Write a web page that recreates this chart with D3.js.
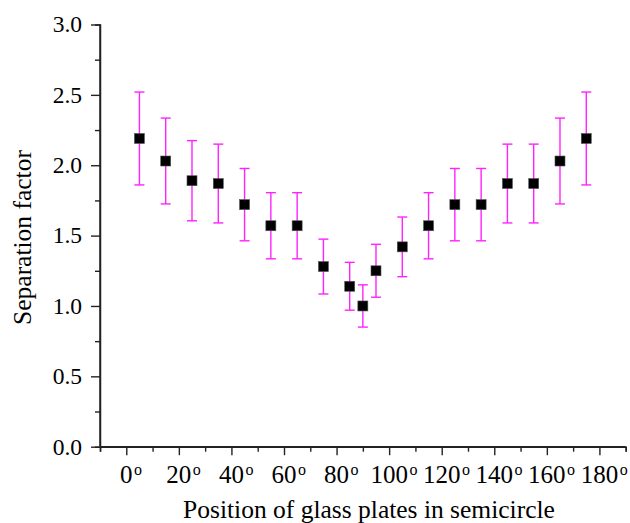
<!DOCTYPE html>
<html>
<head>
<meta charset="utf-8">
<script src="https://cdn.jsdelivr.net/npm/d3@7"></script>
<style>
	body { margin: 0; background: #fff; }
	svg { display: block; }
</style>
</head>
<body>
<script>
const w = 630;
const h = 523;
const margin = { top: 24.5, right: 4.3, bottom: 76.3, left: 100 };
const serif = "'Liberation Serif', 'Times New Roman', Times, 'DejaVu Serif', serif";

// * DATA
const angles = [5, 15, 25, 35, 45, 55, 65, 75, 85, 90, 95, 105, 115, 125, 135, 145, 155, 165, 175];
const values = [2.19, 2.03, 1.89, 1.87, 1.72, 1.57, 1.57, 1.28, 1.14, 1.0, 1.25, 1.42, 1.57, 1.72, 1.72, 1.87, 1.87, 2.03, 2.19];
const errors = [0.33, 0.305, 0.285, 0.28, 0.257, 0.235, 0.235, 0.195, 0.17, 0.15, 0.188, 0.212, 0.235, 0.257, 0.257, 0.28, 0.28, 0.305, 0.33];
const xTicks = [0, 20, 40, 60, 80, 100, 120, 140, 160, 180];
const xMinor = [-10, 10, 30, 50, 70, 90, 110, 130, 150, 170, 190];
const yTicks = [0, 0.5, 1.0, 1.5, 2.0, 2.5, 3.0];
const yMinor = [0.25, 0.75, 1.25, 1.75, 2.25, 2.75];

const dataset = angles.map((a, i) => [a, values[i], errors[i]]);

// * SVG BASE SETUP
const svg = d3.select("body").append("svg")
	.attr("width", w)
	.attr("height", h)
	.attr("font-family", serif);

// * SCALES
const xScale = d3.scaleLinear().domain([-10, 190]).range([margin.left, w - margin.right]);
const yScale = d3.scaleLinear().domain([0, 3]).range([h - margin.bottom, margin.top]);

const axisColor = "#222";

// * AXES
const xAxis = d3.axisBottom(xScale).tickValues(xTicks).tickSize(8.5).tickFormat("");
const xAxisMinor = d3.axisBottom(xScale).tickValues(xMinor).tickSize(5).tickFormat("");
const yAxis = d3.axisLeft(yScale).tickValues(yTicks).tickSize(9).tickFormat("");
const yAxisMinor = d3.axisLeft(yScale).tickValues(yMinor).tickSize(5).tickFormat("");

function styleAxis(g) {
	g.selectAll("path").attr("stroke", axisColor).attr("stroke-width", 1.5);
	g.selectAll("line").attr("stroke", axisColor).attr("stroke-width", 1.4);
}

svg.append("g")
	.attr("transform", "translate(0," + yScale(0) + ")")
	.call(xAxisMinor)
	.call(styleAxis);
svg.append("g")
	.attr("id", "x-axis")
	.attr("transform", "translate(0," + yScale(0) + ")")
	.call(xAxis)
	.call(styleAxis)
	.call((g) => g.select(".domain").attr("d", "M" + xScale(-10) + ",0H" + xScale(190)));
svg.append("g")
	.attr("transform", "translate(" + margin.left + ",0)")
	.call(yAxisMinor)
	.call(styleAxis);
svg.append("g")
	.attr("id", "y-axis")
	.attr("transform", "translate(" + margin.left + ",0)")
	.call(yAxis)
	.call(styleAxis)
	.call((g) => g.select(".domain").attr("d", "M0," + yScale(0) + "V" + yScale(3)));

// * TICK LABELS
svg.append("g")
	.selectAll("text")
	.data(yTicks)
	.enter()
	.append("text")
	.attr("x", 82)
	.attr("y", (d) => yScale(d) + 7.8)
	.attr("text-anchor", "end")
	.attr("font-family", serif)
	.attr("font-size", 23.5)
	.text((d) => d3.format(".1f")(d));

const xLabels = svg.append("g")
	.selectAll("g")
	.data(xTicks)
	.enter()
	.append("g")
	.attr("font-family", serif);
xLabels.append("text")
	.attr("class", "num")
	.attr("x", (d) => xScale(d))
	.attr("y", 483.3)
	.attr("text-anchor", "middle")
	.attr("font-size", 25)
	.text((d) => d);
xLabels.each(function (d) {
	const g = d3.select(this);
	const len = g.select(".num").node().getComputedTextLength();
	g.append("text")
		.attr("x", xScale(d) + len / 2 + 1.5)
		.attr("y", 474.5)
		.attr("font-size", 16)
		.text("o");
});

// * AXIS TITLES
svg.append("text")
	.attr("x", 369)
	.attr("y", 518)
	.attr("text-anchor", "middle")
	.attr("font-family", serif)
	.attr("font-size", 25.5)
	.text("Position of glass plates in semicircle");
svg.append("text")
	.attr("transform", "translate(31," + 237.5 + ") rotate(-90)")
	.attr("text-anchor", "middle")
	.attr("font-family", serif)
	.attr("font-size", 25.5)
	.text("Separation factor");

// * ERROR BARS
const bars = svg.append("g")
	.selectAll("g")
	.data(dataset)
	.enter()
	.append("g")
	.attr("stroke", "#ff22ff")
	.attr("stroke-width", 1.4);
bars.append("line")
	.attr("x1", (d) => xScale(d[0]))
	.attr("x2", (d) => xScale(d[0]))
	.attr("y1", (d) => yScale(d[1] + d[2]))
	.attr("y2", (d) => yScale(d[1] - d[2]));
bars.append("line")
	.attr("x1", (d) => xScale(d[0]) - 5)
	.attr("x2", (d) => xScale(d[0]) + 5)
	.attr("y1", (d) => yScale(d[1] + d[2]))
	.attr("y2", (d) => yScale(d[1] + d[2]));
bars.append("line")
	.attr("x1", (d) => xScale(d[0]) - 5)
	.attr("x2", (d) => xScale(d[0]) + 5)
	.attr("y1", (d) => yScale(d[1] - d[2]))
	.attr("y2", (d) => yScale(d[1] - d[2]));

// * POINTS
svg.append("g")
	.selectAll("rect")
	.data(dataset)
	.enter()
	.append("rect")
	.attr("x", (d) => xScale(d[0]) - 5)
	.attr("y", (d) => yScale(d[1]) - 5)
	.attr("width", 10)
	.attr("height", 10)
	.attr("fill", "#000")
	.attr("stroke", "#555")
	.attr("stroke-width", 0.6);
</script>
</body>
</html>
